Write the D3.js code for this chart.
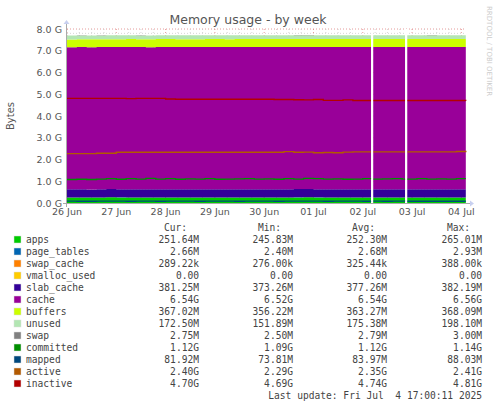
<!DOCTYPE html>
<html>
<head>
<meta charset="utf-8">
<style>
  body { margin: 0; background: #fff; }
  text { font-family: "DejaVu Sans", sans-serif; }
  .mono { font-family: "DejaVu Sans Mono", monospace; font-size: 9.6px; fill: #444; }
</style>
</head>
<body>
<svg id="chart" width="497" height="408"></svg>
<script src="https://d3js.org/d3.v7.min.js"></script>
<script>
// time in days since 26 Jun 00:00
var days = [0,0.2,0.4,0.6,0.8,1.0,1.2,1.4,1.6,1.8,2.0,2.2,2.4,2.6,2.8,3.0,3.2,3.4,3.6,3.8,
            4.0,4.2,4.4,4.6,4.8,5.0,5.2,5.4,5.6,5.8,6.0,6.17,6.21,6.4,6.6,6.8,6.86,6.9,7.1,7.3,
            7.5,7.7,7.9,8.09];
var gapAfter = [31, 36];
var dayLabels = ["26 Jun","27 Jun","28 Jun","29 Jun","30 Jun","01 Jul","02 Jul","03 Jul","04 Jul"];

// values in G
var apps = [0.250,0.252,0.248,0.255,0.260,0.258,0.252,0.250,0.249,0.253,0.251,0.252,0.250,0.248,0.252,0.254,0.250,0.251,0.252,0.255,
            0.253,0.250,0.252,0.258,0.262,0.256,0.252,0.250,0.251,0.253,0.252,0.250,0.251,0.252,0.250,0.253,0.251,0.250,0.252,0.254,
            0.251,0.250,0.252,0.252];
var pageTables = [0.0027,0.0027,0.0026,0.0027,0.0028,0.0027,0.0027,0.0026,0.0027,0.0027,0.0027,0.0026,0.0027,0.0027,0.0027,0.0027,0.0026,0.0027,0.0027,0.0027,
                  0.0027,0.0027,0.0026,0.0027,0.0028,0.0027,0.0027,0.0027,0.0026,0.0027,0.0027,0.0027,0.0027,0.0026,0.0027,0.0027,0.0027,0.0027,0.0026,0.0027,
                  0.0027,0.0027,0.0027,0.0027];
var swapCache = [0.0003,0.0003,0.0003,0.0003,0.0004,0.0003,0.0003,0.0003,0.0003,0.0003,0.0003,0.0003,0.0003,0.0003,0.0003,0.0003,0.0004,0.0003,0.0003,0.0003,
                 0.0003,0.0003,0.0003,0.0003,0.0003,0.0003,0.0003,0.0003,0.0003,0.0003,0.0003,0.0003,0.0003,0.0003,0.0003,0.0003,0.0003,0.0003,0.0003,0.0003,
                 0.0003,0.0003,0.0003,0.0003];
var vmalloc = days.map(function () { return 0; });
var slab = [0.376,0.377,0.375,0.378,0.377,0.376,0.378,0.377,0.376,0.377,0.378,0.377,0.376,0.377,0.378,0.377,0.376,0.377,0.377,0.378,
            0.377,0.376,0.377,0.378,0.377,0.376,0.377,0.378,0.377,0.376,0.378,0.377,0.377,0.378,0.377,0.376,0.377,0.378,0.377,0.376,
            0.377,0.378,0.377,0.381];
var cache = [6.535,6.538,6.540,6.534,6.530,6.536,6.540,6.542,6.538,6.540,6.541,6.539,6.540,6.542,6.540,6.538,6.540,6.541,6.540,6.538,
             6.540,6.542,6.541,6.536,6.530,6.538,6.540,6.542,6.541,6.540,6.539,6.541,6.540,6.541,6.542,6.540,6.541,6.540,6.542,6.541,
             6.540,6.541,6.540,6.540];
var buffers = [0.357,0.358,0.359,0.360,0.360,0.361,0.362,0.362,0.362,0.363,0.363,0.363,0.364,0.364,0.364,0.364,0.364,0.365,0.365,0.365,
               0.365,0.365,0.365,0.366,0.366,0.366,0.366,0.366,0.366,0.367,0.367,0.367,0.367,0.367,0.367,0.367,0.367,0.367,0.368,0.368,
               0.368,0.367,0.367,0.367];
var unused = [0.180,0.178,0.177,0.176,0.178,0.176,0.173,0.172,0.176,0.174,0.175,0.176,0.175,0.174,0.174,0.176,0.176,0.174,0.175,0.175,
              0.174,0.173,0.174,0.176,0.180,0.175,0.174,0.173,0.174,0.175,0.175,0.176,0.175,0.174,0.173,0.175,0.174,0.175,0.173,0.174,
              0.175,0.175,0.176,0.1725];
var swap = days.map(function () { return 0.0028; });

var committed = [1.08,1.09,1.08,1.10,1.12,1.09,1.12,1.10,1.13,1.10,1.12,1.09,1.11,1.10,1.12,1.09,1.10,1.11,1.12,1.10,
                 1.11,1.09,1.12,1.10,1.13,1.12,1.10,1.11,1.09,1.10,1.12,1.11,1.10,1.11,1.12,1.10,1.11,1.10,1.12,1.10,
                 1.11,1.10,1.12,1.12];
var mapped = [0.084,0.083,0.082,0.085,0.086,0.084,0.083,0.085,0.084,0.083,0.084,0.085,0.084,0.083,0.084,0.085,0.084,0.083,0.084,0.085,
              0.084,0.083,0.085,0.084,0.086,0.084,0.083,0.084,0.085,0.084,0.083,0.084,0.084,0.083,0.084,0.085,0.084,0.083,0.082,0.083,
              0.082,0.082,0.082,0.082];
var active = [2.27,2.27,2.27,2.29,2.29,2.33,2.33,2.33,2.33,2.33,2.33,2.33,2.33,2.33,2.33,2.33,2.33,2.33,2.33,2.33,
              2.33,2.33,2.36,2.33,2.34,2.31,2.32,2.31,2.34,2.35,2.35,2.35,2.35,2.35,2.35,2.35,2.35,2.35,2.35,2.35,
              2.35,2.35,2.37,2.40];
var inactive = [4.81,4.81,4.81,4.81,4.81,4.81,4.80,4.81,4.81,4.81,4.78,4.77,4.77,4.77,4.77,4.77,4.77,4.77,4.77,4.77,
                4.77,4.76,4.76,4.75,4.74,4.76,4.72,4.72,4.74,4.71,4.71,4.71,4.71,4.71,4.71,4.71,4.71,4.71,4.71,4.71,
                4.71,4.71,4.71,4.70];

var names = ["apps","page_tables","swap_cache","vmalloc_used","slab_cache","cache","buffers","unused","swap","committed","mapped","active","inactive"];
var colors = ["#00CC00","#0066B3","#FF8000","#FFCC00","#330099","#990099","#CCFF00","#B3E6B3","#808080","#008F00","#00487D","#B35A00","#B30000"];
var cur = ["251.64M","2.66M","289.22k","0.00","381.25M","6.54G","367.02M","172.50M","2.75M","1.12G","81.92M","2.40G","4.70G"];
var mins = ["245.83M","2.40M","276.00k","0.00","373.26M","6.52G","356.22M","151.89M","2.50M","1.09G","73.81M","2.29G","4.69G"];
var avgs = ["252.30M","2.68M","325.44k","0.00","377.26M","6.54G","363.27M","175.38M","2.79M","1.12G","83.97M","2.35G","4.74G"];
var maxs = ["265.01M","2.93M","388.00k","0.00","382.19M","6.56G","368.09M","198.10M","3.00M","1.14G","88.03M","2.41G","4.81G"];

var stackSeries = [apps, pageTables, swapCache, vmalloc, slab, cache, buffers, unused, swap];
var lineSeries = [committed, mapped, active, inactive];

var svg = d3.select("#chart");
var x = d3.scaleLinear().domain([0, 8.1]).range([67, 466.3]);
var y = d3.scaleLinear().domain([0, 8]).range([203, 29]);

// rows with gap markers
var rows = [];
days.forEach(function (t, i) {
    var r = { t: t, i: i };
    stackSeries.forEach(function (s, k) { r["s" + k] = s[i]; });
    rows.push(r);
    if (gapAfter.indexOf(i) >= 0) rows.push({ gap: true, t: t });
});
var dataRows = rows.filter(function (r) { return !r.gap; });
var stacked = d3.stack().keys(stackSeries.map(function (s, k) { return "s" + k; }))(dataRows);

// grid
var g = svg.append("g");
d3.range(0, 8.01, 0.2).forEach(function (v) {
    var major = Math.abs(v - Math.round(v)) < 1e-6;
    g.append("line").attr("x1", 67).attr("x2", 466).attr("y1", y(v)).attr("y2", y(v))
        .attr("stroke", major ? "#e08080" : "#cccccc").attr("stroke-dasharray", "1,2").attr("stroke-width", 0.8);
});
d3.range(0, 8.1, 0.25).forEach(function (v) {
    var major = Math.abs(v - Math.round(v)) < 1e-6;
    g.append("line").attr("x1", x(v)).attr("x2", x(v)).attr("y1", 29).attr("y2", 203)
        .attr("stroke", major ? "#e08080" : "#cccccc").attr("stroke-dasharray", "1,2").attr("stroke-width", 0.8);
});

// stacked areas, broken at gaps
function segments() {
    var segs = [], cur = [];
    dataRows.forEach(function (r, j) {
        cur.push(j);
        if (gapAfter.indexOf(r.i) >= 0) { segs.push(cur); cur = []; }
    });
    segs.push(cur);
    return segs;
}
var segs = segments();
var area = d3.area().curve(d3.curveStepAfter)
    .x(function (d) { return x(d.data.t); })
    .y0(function (d) { return y(d[0]); })
    .y1(function (d) { return y(d[1]); });
stacked.forEach(function (layer, k) {
    segs.forEach(function (seg) {
        var pts = seg.map(function (j) { return layer[j]; });
        svg.append("path").attr("d", area(pts)).attr("fill", colors[k]);
    });
});
var line = d3.line().curve(d3.curveStepAfter)
    .x(function (d) { return x(d.t); }).y(function (d) { return y(d.v); });
lineSeries.forEach(function (s, k) {
    segs.forEach(function (seg) {
        var pts = seg.map(function (j) { return { t: dataRows[j].t, v: s[dataRows[j].i] }; });
        svg.append("path").attr("d", line(pts)).attr("fill", "none")
            .attr("stroke", colors[9 + k]).attr("stroke-width", 1.4);
    });
});
// gap gaps
gapAfter.forEach(function (i) {
    svg.append("rect").attr("x", x(days[i])).attr("width", x(days[i + 1]) - x(days[i]))
        .attr("y", y(8)).attr("height", y(0) - y(8)).attr("fill", "#fff");
});

// axes
svg.append("line").attr("x1", 63).attr("x2", 470).attr("y1", 203.5).attr("y2", 203.5).attr("stroke", "#aaa");
svg.append("line").attr("x1", 66.5).attr("x2", 66.5).attr("y1", 207).attr("y2", 24).attr("stroke", "#aaa");
svg.append("path").attr("d", "M470,200.5L474,203.5L470,206.5Z").attr("fill", "#c8d0f0");
svg.append("path").attr("d", "M63.5,24L66.5,20L69.5,24Z").attr("fill", "#c8d0f0");

d3.range(0, 8.01, 1).forEach(function (v) {
    svg.append("text").attr("x", 62).attr("y", y(v) + 3.5).attr("text-anchor", "end")
        .attr("font-size", 9.5).attr("fill", "#555").text(v.toFixed(1) + " G");
});
dayLabels.forEach(function (l, i) {
    svg.append("text").attr("x", x(i)).attr("y", 215).attr("text-anchor", "middle")
        .attr("font-size", 9.5).attr("fill", "#555").text(l);
});
svg.append("text").attr("transform", "translate(14,116) rotate(-90)").attr("text-anchor", "middle")
    .attr("font-size", 10).attr("fill", "#555").text("Bytes");
svg.append("text").attr("x", 248).attr("y", 24).attr("text-anchor", "middle")
    .attr("font-size", 12.5).attr("fill", "#555").text("Memory usage - by week");
svg.append("text").attr("transform", "translate(487,6) rotate(90)")
    .attr("font-size", 7).attr("fill", "#ccc").text("RRDTOOL / TOBI OETIKER");

// legend
var heads = ["Cur:", "Min:", "Avg:", "Max:"];
var colX = [199, 293, 387, 482];
heads.forEach(function (h, i) {
    svg.append("text").attr("class", "mono").attr("x", colX[i] - 12).attr("y", 231)
        .attr("text-anchor", "end").text(h);
});
names.forEach(function (n, i) {
    var yy = 243 + i * 12;
    svg.append("rect").attr("x", 14).attr("y", yy - 7).attr("width", 7).attr("height", 7)
        .attr("fill", colors[i]).attr("stroke", "#ddd").attr("stroke-width", 0.5);
    svg.append("text").attr("class", "mono").attr("x", 26).attr("y", yy).text(n);
    [cur, mins, avgs, maxs].forEach(function (arr, c) {
        svg.append("text").attr("class", "mono").attr("x", colX[c]).attr("y", yy)
            .attr("text-anchor", "end").text(arr[i]);
    });
});
svg.append("text").attr("class", "mono").attr("x", 482).attr("y", 399).attr("text-anchor", "end")
    .text("Last update: Fri Jul  4 17:00:11 2025").attr("xml:space", "preserve").style("white-space", "pre");
</script>
</body>
</html>
